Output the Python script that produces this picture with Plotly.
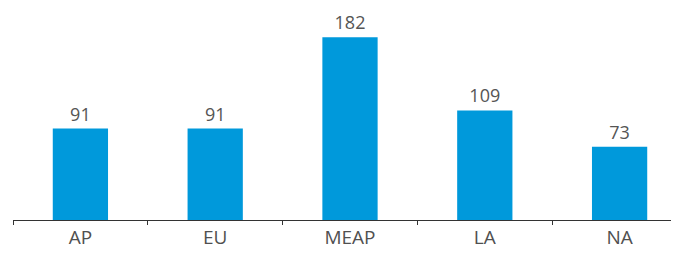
import plotly.graph_objects as go

categories = ["AP", "EU", "MEAP", "LA", "NA"]
values = [91, 91, 182, 109, 73]

fig = go.Figure(go.Bar(
    x=categories, y=values,
    marker=dict(color="#0099DB", line=dict(width=0)),
    text=[str(v) for v in values], textposition="outside",
    textfont=dict(size=18, color="#555555", family="Open Sans"),
    constraintext="none",
    cliponaxis=False,
))
fig.update_layout(
    width=679, height=254,
    margin=dict(l=5, r=0, t=0, b=42),
    paper_bgcolor="white", plot_bgcolor="white",
    bargap=0.59, showlegend=False,
    font=dict(family="Open Sans", color="#444444"),
)
fig.update_xaxes(
    range=[-0.5, 4.5], showline=True, linecolor="#333333", linewidth=1,
    ticks="outside", tickson="boundaries", ticklen=4, tickcolor="#333333",
    tickfont=dict(size=19, color="#505050"), showgrid=False,
)
fig.update_yaxes(range=[0, 211], visible=False, showgrid=False)
fig.write_html("out.html")
